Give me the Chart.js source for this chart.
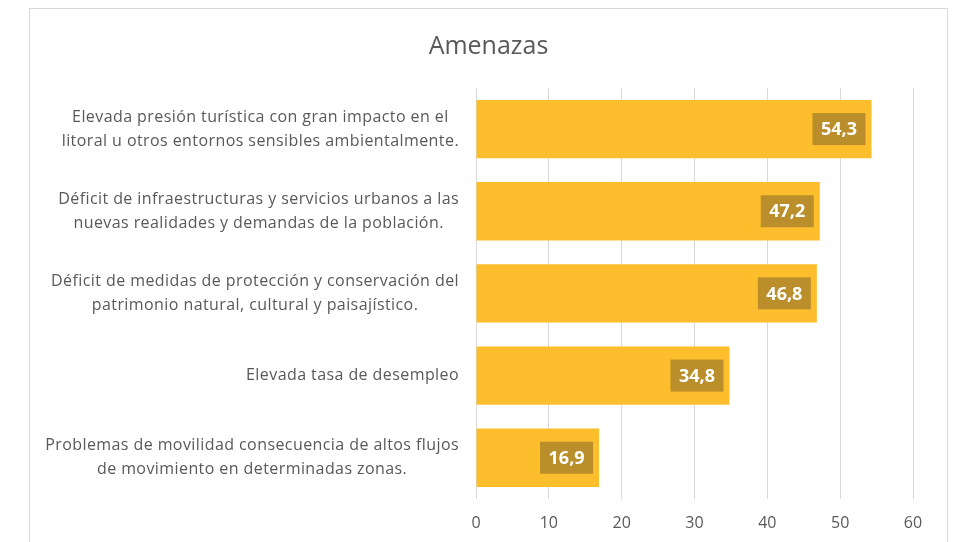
<!DOCTYPE html>
<html>
<head>
<meta charset="utf-8">
<script src="https://cdn.jsdelivr.net/npm/chart.js@4.4.1/dist/chart.umd.min.js"></script>
<style>
  html, body { margin: 0; padding: 0; background: #fff; overflow: hidden; }
  #box {
    position: absolute; left: 29px; top: 8px;
    width: 917px; height: 546px;
    border: 1px solid #d9d9d9;
  }
  #box canvas { display: block; }
</style>
</head>
<body>
<div id="box"><canvas id="myChart" width="917" height="539"></canvas></div>
<script>
// chart data
var chartTitle = "Amenazas";
var categories = [
  ["Elevada presión turística con gran impacto en el", "litoral u otros entornos sensibles ambientalmente."],
  ["Déficit de infraestructuras y servicios urbanos a las", "nuevas realidades y demandas de la población."],
  ["Déficit de medidas de protección y conservación del", "patrimonio natural, cultural y paisajístico."],
  ["Elevada tasa de desempleo"],
  ["Problemas de movilidad consecuencia de altos flujos", "de movimiento en determinadas zonas."]
];
var values = [54.3, 47.2, 46.8, 34.8, 16.9];
var xTicks = [0, 10, 20, 30, 40, 50, 60];

var textColor = "#595959";
var fontName = "'Open Sans', 'Noto Sans', sans-serif";

function fmt(v) {
  return v.toFixed(1).replace(".", ",");
}

// category labels, lines centred in a block that is right aligned to the axis
var yLabelPlugin = {
  id: "yLabels",
  afterDraw: function (chart) {
    var ctx = chart.ctx;
    var sc = chart.scales.y;
    ctx.save();
    ctx.font = "16px " + fontName;
    ctx.letterSpacing = "0.42px";
    ctx.fillStyle = textColor;
    ctx.textAlign = "center";
    ctx.textBaseline = "middle";
    var lineH = 24;
    categories.forEach(function (lines, i) {
      var w = 0;
      lines.forEach(function (l) { w = Math.max(w, ctx.measureText(l).width); });
      var cx = sc.right - 17 - w / 2;
      var cy = sc.getPixelForTick(i);
      var y0 = cy - (lines.length - 1) * lineH / 2;
      lines.forEach(function (l, k) {
        ctx.fillText(l, cx, y0 + k * lineH);
      });
    });
    ctx.restore();
  }
};

// value badges inside the bar end
var badgePlugin = {
  id: "badges",
  afterDatasetsDraw: function (chart) {
    var ctx = chart.ctx;
    var meta = chart.getDatasetMeta(0);
    ctx.save();
    ctx.font = "bold 18px " + fontName;
    ctx.textAlign = "center";
    ctx.textBaseline = "middle";
    meta.data.forEach(function (bar, i) {
      var txt = fmt(values[i]);
      var w = ctx.measureText(txt).width + 17;
      var h = 32;
      var right = bar.x - 6;
      ctx.fillStyle = "#B98E2B";
      ctx.fillRect(right - w, bar.y - h / 2, w, h);
      ctx.fillStyle = "#ffffff";
      ctx.fillText(txt, right - w / 2, bar.y + 1);
    });
    ctx.restore();
  }
};

var myChart = new Chart(document.getElementById("myChart").getContext("2d"), {
  type: "bar",
  data: {
    labels: categories,
    datasets: [{
      data: values,
      backgroundColor: "#FCBE2C",
      borderWidth: 0,
      categoryPercentage: 0.71,
      barPercentage: 1
    }]
  },
  options: {
    indexAxis: "y",
    responsive: false,
    animation: false,
    layout: { padding: { left: 34, right: 34, top: 0, bottom: 0 } },
    plugins: {
      legend: { display: false },
      tooltip: { enabled: false },
      title: {
        display: true,
        text: chartTitle,
        color: textColor,
        font: { family: fontName, size: 25, weight: "normal" },
        padding: { top: 23, bottom: 26 }
      }
    },
    scales: {
      x: {
        min: 0,
        max: 60,
        afterBuildTicks: function (axis) {
          axis.ticks = xTicks.map(function (v) { return { value: v }; });
        },
        grid: { color: "#d9d9d9", drawTicks: false },
        border: { display: false },
        ticks: {
          color: textColor,
          padding: 15,
          font: { family: fontName, size: 16 }
        }
      },
      y: {
        grid: { display: false },
        border: { display: true, color: "#d9d9d9" },
        ticks: { display: false },
        afterFit: function (axis) { axis.width = 412; }
      }
    }
  },
  plugins: [yLabelPlugin, badgePlugin]
});
</script>
</body>
</html>
